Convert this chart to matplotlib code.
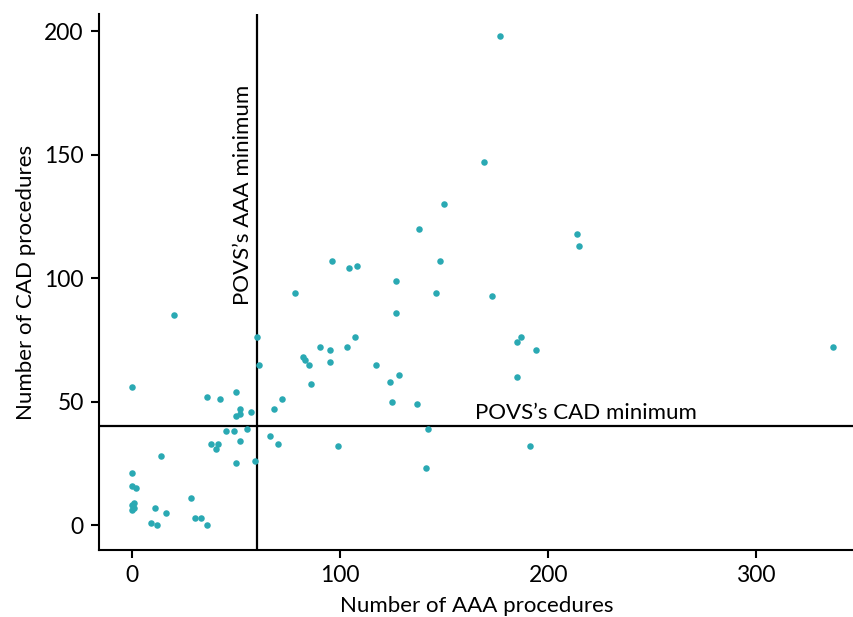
import matplotlib
matplotlib.use("Agg")
import matplotlib.pyplot as plt

plt.rcParams['font.family'] = ['Lato', 'DejaVu Sans']

# number of AAA and CAD procedures per centre
aaa = [20, 60, 61, 0, 36, 42, 50, 72, 68, 52, 57, 52, 50, 55, 45, 49, 66, 70,
       52, 38, 41, 40, 14, 50, 59, 0, 0, 2, 28, 1, 0, 1, 0, 11, 16, 30, 33, 9,
       12, 36,
       96, 104, 108, 148, 127, 146, 173, 78, 127, 107, 185, 187, 194, 90, 95,
       103, 82, 83, 85, 95, 117, 185, 128, 124, 86, 125, 137, 142, 99, 191, 141,
       177, 169, 150, 138, 214, 215, 337]
cad = [85, 76, 65, 56, 52, 51, 54, 51, 47, 47, 46, 45, 44, 39, 38, 38, 36, 33,
       34, 33, 33, 31, 28, 25, 26, 21, 16, 15, 11, 9, 8, 7, 6, 7, 5, 3, 3, 1,
       0, 0,
       107, 104, 105, 107, 99, 94, 93, 94, 86, 76, 74, 76, 71, 72, 71,
       72, 68, 67, 65, 66, 65, 60, 61, 58, 57, 50, 49, 39, 32, 32, 23,
       198, 147, 130, 120, 118, 113, 72]

aaa_min = 60
cad_min = 40

fig = plt.figure(figsize=(8.54, 6.17), dpi=100)
ax = fig.add_axes([0.116, 0.109, 0.884, 0.868])

ax.scatter(aaa, cad, s=22, c='#2aa9b3', linewidths=0, zorder=3)
ax.axvline(aaa_min, color='black', lw=1.6, zorder=2)
ax.axhline(cad_min, color='black', lw=1.6, zorder=2)

ax.text(aaa_min - 2, 89, "POVS\u2019s AAA minimum", rotation=90,
        ha='right', va='bottom', fontsize=16)
ax.text(165, 41.5, "POVS\u2019s CAD minimum", ha='left', va='bottom',
        fontsize=16)

ax.set_xlim(-16, 347)
ax.set_ylim(-10, 207)
ax.set_xticks([0, 100, 200, 300])
ax.set_yticks([0, 50, 100, 150, 200])

ax.spines['top'].set_visible(False)
ax.spines['right'].set_visible(False)
for s in ['left', 'bottom']:
    ax.spines[s].set_linewidth(1.5)
ax.tick_params(direction='out', length=6, width=1.5, labelsize=16.5, pad=5)

ax.set_xlabel("Number of AAA procedures", fontsize=16, labelpad=7)
ax.set_ylabel("Number of CAD procedures", fontsize=16, labelpad=6)

fig.savefig("out.png", dpi=100)
